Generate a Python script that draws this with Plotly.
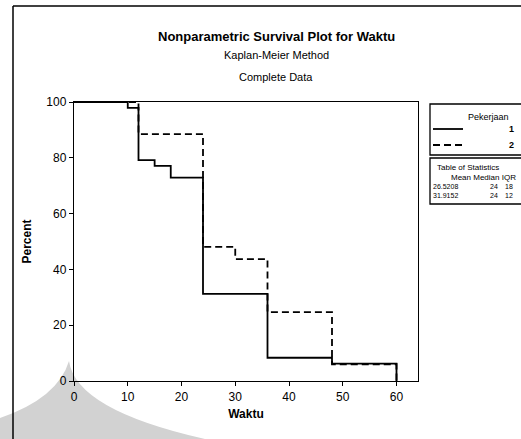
import plotly.graph_objects as go

# Kaplan-Meier survival estimates (percent) by Pekerjaan group
time_1 = [0, 10, 12, 15, 18, 24, 36, 48, 60]
surv_1 = [100, 97.92, 79.17, 77.08, 72.92, 31.25, 8.33, 6.25, 0]
time_2 = [0, 12, 24, 30, 36, 48, 60]
surv_2 = [100, 88.5, 48.1, 43.7, 24.7, 6.0, 0]

group_names = ["1", "2"]
stat_header = "Mean Median IQR"
stat_mean = ["26.5208", "31.9152"]
stat_median = ["24", "24"]
stat_iqr = ["18", "12"]

x_ticks = [0, 10, 20, 30, 40, 50, 60]
y_ticks = [0, 20, 40, 60, 80, 100]

W, H = 521, 439
L, R, T, B = 74, 103, 102, 58
PW, PH = W - L - R, H - T - B

FONT = "Liberation Sans, Arial, sans-serif"


def px(x):
    return (x - L) / PW


def py(y):
    return (H - B - y) / PH


fig = go.Figure()
fig.add_trace(go.Scatter(x=time_1, y=surv_1, mode="lines", line_shape="hv",
                         line=dict(color="black", width=1.8), showlegend=False))
fig.add_trace(go.Scatter(x=time_2, y=surv_2, mode="lines", line_shape="hv",
                         line=dict(color="black", width=1.8, dash="7px,4px"),
                         showlegend=False))

axis_common = dict(showline=True, linecolor="black", linewidth=1.4, mirror=True,
                   ticks="outside", ticklen=4, tickcolor="black", tickwidth=1,
                   showgrid=False, zeroline=False,
                   tickfont=dict(family=FONT, size=12, color="black"))

fig.update_xaxes(range=[0, 64], tickvals=x_ticks, **axis_common,
                 title=dict(text="<b>Waktu</b>", standoff=7,
                            font=dict(family=FONT, size=12, color="black")))
fig.update_yaxes(range=[0, 100], tickvals=y_ticks, **axis_common,
                 title=dict(text="<b>Percent</b>", standoff=12,
                            font=dict(family=FONT, size=12, color="black")))

shapes = []
# grey shadow at the lower-left corner of the page
shadow = (f"M {px(0)},{py(418)} Q {px(58)},{py(398)} {px(69)},{py(361)} "
          f"Q {px(76)},{py(410)} {px(205)},{py(439)} L {px(0)},{py(439)} Z")
shapes.append(dict(type="path", path=shadow, xref="paper", yref="paper",
                   fillcolor="#d2d2d2", line=dict(width=0), layer="below"))
# page frame
shapes.append(dict(type="line", xref="paper", yref="paper",
                   x0=px(13), x1=px(13), y0=py(6), y1=py(439),
                   line=dict(color="black", width=1.5)))
shapes.append(dict(type="line", xref="paper", yref="paper",
                   x0=px(13), x1=px(521), y0=py(6), y1=py(6),
                   line=dict(color="black", width=1.5)))
# legend box and statistics box
shapes.append(dict(type="rect", xref="paper", yref="paper",
                   x0=px(430), x1=px(530), y0=py(104), y1=py(155),
                   line=dict(color="black", width=1.3)))
shapes.append(dict(type="rect", xref="paper", yref="paper",
                   x0=px(430), x1=px(530), y0=py(158), y1=py(204),
                   line=dict(color="black", width=1.3)))
# legend line samples
shapes.append(dict(type="line", xref="paper", yref="paper",
                   x0=px(433), x1=px(463), y0=py(129), y1=py(129),
                   line=dict(color="black", width=1.8)))
shapes.append(dict(type="line", xref="paper", yref="paper",
                   x0=px(433), x1=px(463), y0=py(145), y1=py(145),
                   line=dict(color="black", width=1.8, dash="7px,4px")))

ann = []


def text(x, y, s, size, bold=False, anchor="center"):
    if bold:
        s = f"<b>{s}</b>"
    ann.append(dict(x=px(x), y=py(y), xref="paper", yref="paper", text=s,
                    showarrow=False, xanchor=anchor, yanchor="middle",
                    font=dict(family=FONT, size=size, color="black")))


text(276, 36, "Nonparametric Survival Plot for Waktu", 13, bold=True)
text(276, 55, "Kaplan-Meier Method", 11)
text(276, 77, "Complete Data", 11)

text(488, 117, "Pekerjaan", 9)
text(511, 129, group_names[0], 9, bold=True)
text(511, 145, group_names[1], 9, bold=True)

text(468, 167, "Table of Statistics", 8)
text(484, 177, stat_header, 8)
for i, yy in enumerate([186, 195]):
    text(431, yy, stat_mean[i], 7, anchor="left")
    text(500, yy, stat_median[i], 7, anchor="right")
    text(515, yy, stat_iqr[i], 7, anchor="right")

fig.update_layout(width=W, height=H, margin=dict(l=L, r=R, t=T, b=B),
                  paper_bgcolor="white", plot_bgcolor="rgba(0,0,0,0)",
                  shapes=shapes, annotations=ann, showlegend=False)

fig.write_html("out.html")
